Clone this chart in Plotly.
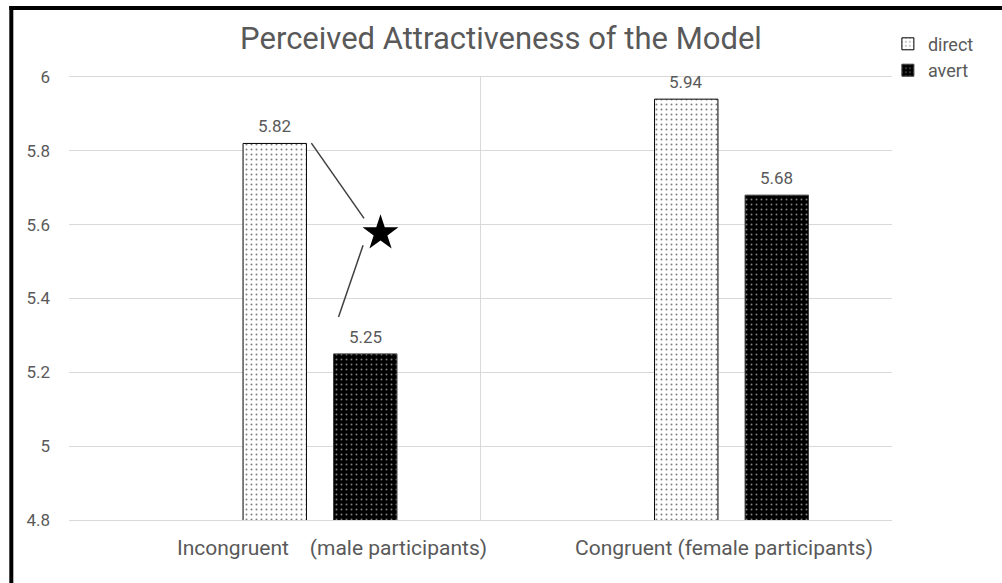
import plotly.graph_objects as go

# Chart data
categories = ["Incongruent\u00a0\u00a0\u00a0\u00a0(male participants)", "Congruent (female participants)"]
series_names = ["direct", "avert"]
direct_values = [5.82, 5.94]
avert_values = [5.25, 5.68]
y_ticks = [4.8, 5.0, 5.2, 5.4, 5.6, 5.8, 6.0]
y_tick_labels = ["4.8", "5", "5.2", "5.4", "5.6", "5.8", "6"]

GRID = "#d9d9d9"
TEXT = "#595959"
FONT = "Roboto, sans-serif"

BARGAP = 0.34
BARGROUPGAP = 0.30
N_SLOTS = 3
slot = (1 - BARGAP) / N_SLOTS  # category-axis width of one bar slot

fig = go.Figure()

# Leading blank series (keeps the two real bars in slots 2 and 3 of each cluster)
fig.add_trace(go.Bar(x=categories, y=[None, None], name="", showlegend=False,
                     hoverinfo="skip"))

fig.add_trace(go.Bar(
    x=categories, y=direct_values, name=series_names[0],
    marker=dict(color="white", line=dict(color="black", width=1),
                pattern=dict(shape=".", fgcolor="black", bgcolor="white",
                             size=5, solidity=0.12)),
))
fig.add_trace(go.Bar(
    x=categories, y=avert_values, name=series_names[1],
    marker=dict(color="black", line=dict(color="#3a3a3a", width=1),
                pattern=dict(shape=".", fgcolor="white", bgcolor="black",
                             size=5, solidity=0.12)),
))

# Significance star with its connector lines (drawn on a linear overlay axis)
star_x, star_y = 0.257, 5.577
fig.add_trace(go.Scatter(x=[star_x], y=[star_y], xaxis="x2", mode="markers",
                         marker=dict(symbol="star", size=27, color="black"),
                         showlegend=False, hoverinfo="skip"))
connectors = [((0.089, 5.821), (0.217, 5.617)),
              ((0.2146, 5.544), (0.155, 5.350))]
for (x0, y0), (x1, y1) in connectors:
    fig.add_shape(type="line", xref="x2", yref="y", x0=x0, y0=y0, x1=x1, y1=y1,
                  line=dict(color="#404040", width=1.5))

# Value labels above each bar
for i, v in enumerate(direct_values):
    fig.add_annotation(x=i, y=v, xref="x2", yref="y", text=f"{v:.2f}",
                       showarrow=False, yanchor="bottom", yshift=5,
                       font=dict(size=17, color=TEXT, family=FONT))
for i, v in enumerate(avert_values):
    fig.add_annotation(x=i + slot, y=v, xref="x2", yref="y", text=f"{v:.2f}",
                       showarrow=False, yanchor="bottom", yshift=5,
                       font=dict(size=17, color=TEXT, family=FONT))

# Category labels under the axis
label_x = [0.14, 1.092]
for lx, name in zip(label_x, categories):
    fig.add_annotation(x=lx, y=-0.063, xref="x2", yref="paper", text=name,
                       showarrow=False, xanchor="center", yanchor="middle",
                       font=dict(size=21, color=TEXT, family=FONT))

# Category separator line in the middle of the plot
fig.add_shape(type="line", xref="x2", yref="paper", x0=0.5, x1=0.5, y0=0, y1=1,
              line=dict(color=GRID, width=1), layer="below")

# Frame around the figure (left and top edges)
fig.add_shape(type="line", xref="paper", yref="paper", x0=-0.0701, x1=-0.0701,
              y0=1.16, y1=-0.15, line=dict(color="black", width=4))
fig.add_shape(type="line", xref="paper", yref="paper", x0=-0.0725, x1=1.14,
              y0=1.1558, y1=1.1558, line=dict(color="black", width=4))

fig.update_layout(
    width=1002, height=583,
    margin=dict(l=69, r=110, t=77, b=63, autoexpand=False),
    paper_bgcolor="white", plot_bgcolor="white",
    barmode="group", bargap=BARGAP, bargroupgap=BARGROUPGAP,
    title=dict(text="Perceived Attractiveness of the Model", x=0.5, xanchor="center",
               y=1 - 38 / 583, yanchor="middle",
               font=dict(size=31, color=TEXT, family=FONT)),
    font=dict(family=FONT, color=TEXT),
    showlegend=True,
    legend=dict(x=0.995, y=1.116, xanchor="left", yanchor="top",
                font=dict(size=18, color=TEXT, family=FONT),
                itemwidth=30, tracegroupgap=0, bgcolor="rgba(0,0,0,0)"),
    xaxis=dict(type="category", range=[-0.5, 1.5], showgrid=False,
               showline=True, linecolor=GRID, mirror=True, ticks="",
               showticklabels=False),
    xaxis2=dict(overlaying="x", range=[-0.5, 1.5], visible=False),
    yaxis=dict(range=[4.8, 6.0], tickvals=y_ticks, ticktext=y_tick_labels,
               showgrid=True, gridcolor=GRID, gridwidth=1, zeroline=False,
               showline=False, ticks="", ticklabelstandoff=18,
               tickfont=dict(size=17, color=TEXT, family=FONT)),
)

fig.write_html("out.html")
